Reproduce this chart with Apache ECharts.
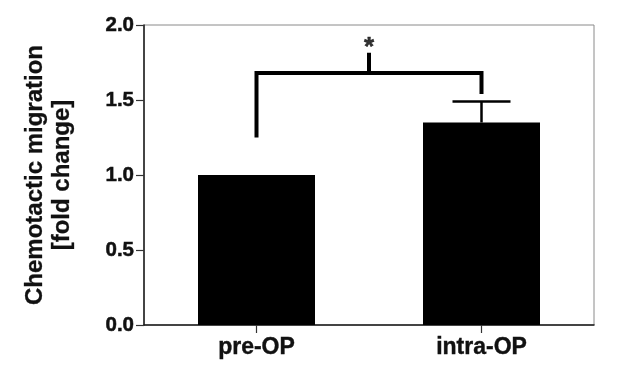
<!DOCTYPE html>
<html>
<head>
<meta charset="utf-8">
<style>html,body{margin:0;padding:0;background:#fff;}#chart{width:644px;height:373px;}</style>
<script src="https://cdn.jsdelivr.net/npm/echarts@6/dist/echarts.min.js"></script>
</head>
<body>
<div id="chart"></div>
<script>
// Data
var categories = ['pre-OP', 'intra-OP'];
var means = [1.0, 1.35];
var errorTops = [null, 1.49];
var yTicks = [0, 0.5, 1.0, 1.5, 2.0];
// significance bracket (x in category index units)
var bracket = [[0, 1.25], [0, 1.68], [0.5, 1.68], [0.5, 1.815], [0.5, 1.68], [1, 1.68], [1, 1.54]];
var starPoint = [[0.5, 1.85]];
var starText = '*';

var font = '"Liberation Sans", Arial, Helvetica, sans-serif';
var chart = echarts.init(document.getElementById('chart'), null, {renderer: 'canvas'});

var errData = [];
for (var i = 0; i < means.length; i++) {
  if (errorTops[i] != null) errData.push([i, means[i], errorTops[i]]);
}

chart.setOption({
  animation: false,
  backgroundColor: '#fff',
  grid: {left: 144, right: 50, top: 25, bottom: 48, show: true, borderColor: '#8a8a8a', borderWidth: 1},
  xAxis: [{
    type: 'category',
    data: categories,
    axisLine: {onZero: false, lineStyle: {color: '#1a1a1a', width: 1.5}},
    axisTick: {show: true, alignWithLabel: true, length: 8, lineStyle: {color: '#333', width: 1.2}},
    axisLabel: {color: '#111', fontFamily: font, fontWeight: 'bold', fontSize: 23, margin: 11,
      textBorderColor: '#111', textBorderWidth: 0.4}
  }, {
    type: 'value', min: -0.5, max: 1.5, show: false
  }],
  yAxis: {
    type: 'value', min: 0, max: 2, interval: 0.5,
    name: 'Chemotactic migration\n[fold change]',
    nameLocation: 'middle', nameGap: 68,
    nameTextStyle: {color: '#111', fontFamily: font, fontWeight: 'bold', fontSize: 24, lineHeight: 27,
      textBorderColor: '#111', textBorderWidth: 0.3},
    axisLine: {show: true, onZero: false, lineStyle: {color: '#1a1a1a', width: 1.5}},
    axisTick: {show: true, length: 8, lineStyle: {color: '#333', width: 1.2}},
    splitLine: {show: false},
    axisLabel: {color: '#111', fontFamily: font, fontWeight: 'bold', fontSize: 20.5, margin: 10,
      textBorderColor: '#111', textBorderWidth: 0.5,
      formatter: function (v) { return yTicks.indexOf(v) >= 0 ? v.toFixed(1) : ''; }}
  },
  series: [{
    type: 'bar',
    data: means,
    barWidth: '52%',
    itemStyle: {color: '#000'},
    z: 2
  }, {
    type: 'custom',
    xAxisIndex: 1,
    data: errData,
    renderItem: function (params, api) {
      var x = api.value(0);
      var lo = api.coord([x, api.value(1)]);
      var hi = api.coord([x, api.value(2)]);
      var hw = 29;
      return {type: 'group', children: [
        {type: 'line', shape: {x1: lo[0], y1: lo[1], x2: hi[0], y2: hi[1]}, style: {stroke: '#000', lineWidth: 2.5}},
        {type: 'line', shape: {x1: hi[0] - hw, y1: hi[1], x2: hi[0] + hw, y2: hi[1]}, style: {stroke: '#000', lineWidth: 2.5}}
      ]};
    },
    z: 1
  }, {
    type: 'line',
    xAxisIndex: 1,
    data: bracket,
    symbol: 'none',
    lineStyle: {color: '#000', width: 4, join: 'miter'},
    z: 3
  }, {
    type: 'scatter',
    xAxisIndex: 1,
    data: starPoint,
    symbolSize: 1,
    itemStyle: {color: 'rgba(0,0,0,0)'},
    label: {show: true, position: 'inside', formatter: starText, color: '#000', fontFamily: font, fontWeight: 'bold', fontSize: 26,
      textBorderColor: '#000', textBorderWidth: 0.5},
    z: 4
  }]
});
</script>
</body>
</html>
